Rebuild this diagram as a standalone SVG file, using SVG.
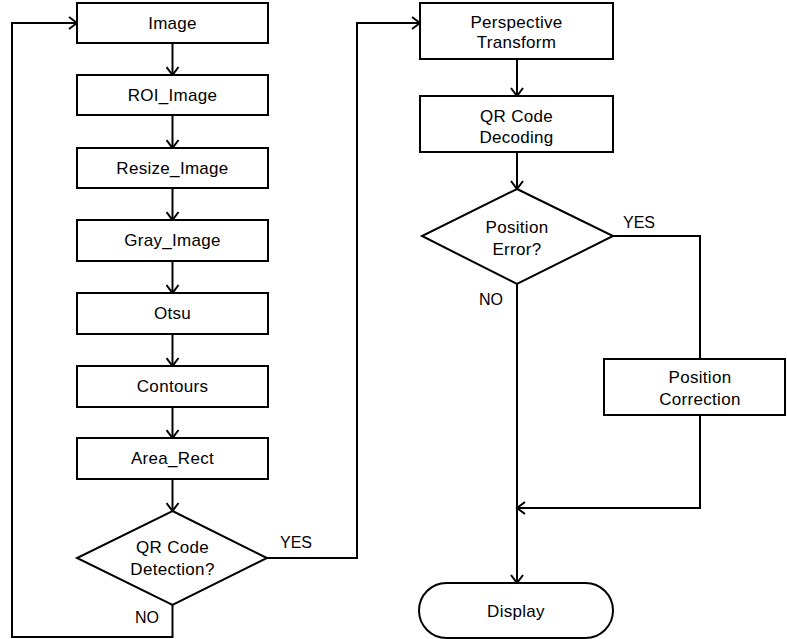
<svg xmlns="http://www.w3.org/2000/svg" width="787" height="639" viewBox="0 0 787 639">
<style>
.box{fill:#fff;stroke:#000;stroke-width:2}
.ln{fill:none;stroke:#000;stroke-width:2}
.t{font-family:"Liberation Sans",Arial,sans-serif;font-size:17px;text-anchor:middle;fill:#000;letter-spacing:0.3px}
.lb{font-family:"Liberation Sans",Arial,sans-serif;font-size:16px;fill:#000}
</style>
<defs>
<marker id="ar" viewBox="-10 -7 12 14" refX="0" refY="0" markerWidth="12" markerHeight="14" markerUnits="userSpaceOnUse" orient="auto">
<path d="M-8,-6 L0,0 L-8,6" fill="none" stroke="#000" stroke-width="2"/>
</marker>
</defs>
<rect width="787" height="639" fill="#fff"/>
<g id="connectors">
<path class="ln" marker-end="url(#ar)" d="M172.5,43 V75"/>
<path class="ln" marker-end="url(#ar)" d="M172.5,115 V148"/>
<path class="ln" marker-end="url(#ar)" d="M172.5,188 V220"/>
<path class="ln" marker-end="url(#ar)" d="M172.5,261 V293"/>
<path class="ln" marker-end="url(#ar)" d="M172.5,334 V366"/>
<path class="ln" marker-end="url(#ar)" d="M172.5,407 V438"/>
<path class="ln" marker-end="url(#ar)" d="M172.5,479 V511"/>
<path class="ln" marker-end="url(#ar)" d="M172.5,605 V637 H12 V23 H77"/>
<path class="ln" marker-end="url(#ar)" d="M267,558 H357 V23 H420"/>
<path class="ln" marker-end="url(#ar)" d="M517,59 V96"/>
<path class="ln" marker-end="url(#ar)" d="M517,152 V189"/>
<path class="ln" d="M613,236 H700 V359"/>
<path class="ln" marker-end="url(#ar)" d="M700,415 V508 H517"/>
<path class="ln" marker-end="url(#ar)" d="M517,284 V583"/>
<text class="lb" x="280" y="548">YES</text>
<text class="lb" x="135" y="623">NO</text>
<text class="lb" x="623" y="228">YES</text>
<text class="lb" x="479" y="305">NO</text>
</g>
<g id="image"><rect class="box" x="77" y="3" width="191" height="40"/><text class="t" x="172.5" y="29">Image</text></g>
<g id="roi"><rect class="box" x="77" y="75" width="191" height="40"/><text class="t" x="172.5" y="101">ROI_Image</text></g>
<g id="resize"><rect class="box" x="77" y="148" width="191" height="40"/><text class="t" x="172.5" y="174">Resize_Image</text></g>
<g id="gray"><rect class="box" x="77" y="220" width="191" height="41"/><text class="t" x="172.5" y="246">Gray_Image</text></g>
<g id="otsu"><rect class="box" x="77" y="293" width="191" height="41"/><text class="t" x="172.5" y="319">Otsu</text></g>
<g id="contours"><rect class="box" x="77" y="366" width="191" height="41"/><text class="t" x="172.5" y="392">Contours</text></g>
<g id="arearect"><rect class="box" x="77" y="438" width="191" height="41"/><text class="t" x="172.5" y="464">Area_Rect</text></g>
<g id="qrdetect"><polygon class="box" points="172.5,511 267,558 172.5,605 77,558"/><text class="t" x="172.5" y="553">QR Code</text><text class="t" x="172.5" y="575">Detection?</text></g>
<g id="perspective"><rect class="box" x="420" y="3" width="193" height="56"/><text class="t" x="516.5" y="28">Perspective</text><text class="t" x="516.5" y="48">Transform</text></g>
<g id="decoding"><rect class="box" x="420" y="96" width="193" height="56"/><text class="t" x="516.5" y="122">QR Code</text><text class="t" x="516.5" y="143">Decoding</text></g>
<g id="poserror"><polygon class="box" points="517,189 613,236 517,284 422,236"/><text class="t" x="517" y="233">Position</text><text class="t" x="517" y="255">Error?</text></g>
<g id="poscorr"><rect class="box" x="604" y="359" width="181" height="56"/><text class="t" x="700" y="383">Position</text><text class="t" x="700" y="405">Correction</text></g>
<g id="display"><rect class="box" x="419" y="583" width="194" height="55" rx="27.5" ry="27.5"/><text class="t" x="516" y="617">Display</text></g>
</svg>
